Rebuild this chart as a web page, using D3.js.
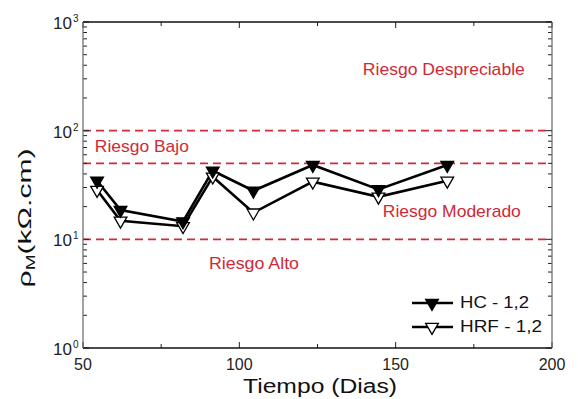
<!DOCTYPE html>
<html>
<head>
<meta charset="utf-8">
<script src="https://cdn.jsdelivr.net/npm/d3@7"></script>
<style>
  html, body { margin: 0; padding: 0; background: #fff; }
  svg { display: block; font-family: Arial, "Liberation Sans", sans-serif; }
</style>
</head>
<body>
<svg id="chart" width="578" height="399"></svg>
<script>
// ---- data ----
const days = [54.5, 62, 82, 91.5, 104.5, 123.5, 144.5, 166.5];
const hcValues = [34.6, 18.6, 14.6, 42.8, 28, 48.3, 28.8, 48.3];
const hrfValues = [28.4, 14.8, 13.2, 37.7, 17.6, 33.9, 24.6, 34.6];
const seriesNames = ["HC - 1,2", "HRF - 1,2"];
const xMajorTicks = [50, 100, 150, 200];
const xMinorTicks = [75, 125, 175];
const yDecadeExponents = [0, 1, 2, 3];
const riskLimits = [10, 50, 100];
const riskLabels = ["Riesgo Despreciable", "Riesgo Bajo", "Riesgo Moderado", "Riesgo Alto"];
const riskLabelDays = [139.5, 53.8, 145.9, 90.3];
const riskLabelValues = [325, 63.6, 16.0, 5.33];
const xTitle = "Tiempo (Dias)";

// ---- layout ----
const L = 83, R = 552, T = 22, B = 348;
const svg = d3.select("#chart");
const x = d3.scaleLinear().domain([50, 200]).range([L, R]);
const y = d3.scaleLog().domain([1, 1000]).range([B, T]);
const red = "#cf2a36";

// risk limit dashed lines
svg.append("g").selectAll("line").data(riskLimits).join("line")
  .attr("x1", L).attr("x2", R)
  .attr("y1", d => y(d)).attr("y2", d => y(d))
  .attr("stroke", red).attr("stroke-width", 1.6)
  .attr("stroke-dasharray", "8,5");

// risk labels
const riskWidths = [162, 94, 138, 90];
svg.append("g").selectAll("text").data(riskLabels).join("text")
  .attr("x", (d, i) => x(riskLabelDays[i]))
  .attr("y", (d, i) => y(riskLabelValues[i]))
  .attr("font-size", 17)
  .attr("fill", red)
  .attr("textLength", (d, i) => riskWidths[i])
  .attr("lengthAdjust", "spacingAndGlyphs")
  .text(d => d);

// ticks
const yAll = y.ticks();
const isMajorY = v => Math.abs(Math.log10(v) - Math.round(Math.log10(v))) < 1e-9;
const axisG = svg.append("g").attr("stroke", "#222");
axisG.selectAll("line.yl").data(yAll).join("line").attr("class", "yl")
  .attr("x1", L).attr("x2", d => L + (isMajorY(d) ? 6 : 4))
  .attr("y1", d => y(d)).attr("y2", d => y(d)).attr("stroke-width", 1);
axisG.selectAll("line.yr").data(yAll).join("line").attr("class", "yr")
  .attr("x1", R).attr("x2", d => R - (isMajorY(d) ? 6 : 4))
  .attr("y1", d => y(d)).attr("y2", d => y(d)).attr("stroke-width", 1);
const xAll = xMajorTicks.map(v => ({v, major: true})).concat(xMinorTicks.map(v => ({v, major: false})));
axisG.selectAll("line.xb").data(xAll).join("line").attr("class", "xb")
  .attr("x1", d => x(d.v)).attr("x2", d => x(d.v))
  .attr("y1", B).attr("y2", d => B - (d.major ? 6 : 4)).attr("stroke-width", 1);
axisG.selectAll("line.xt").data(xAll).join("line").attr("class", "xt")
  .attr("x1", d => x(d.v)).attr("x2", d => x(d.v))
  .attr("y1", T).attr("y2", d => T + (d.major ? 6 : 4)).attr("stroke-width", 1);

// frame
svg.append("line").attr("x1", L).attr("x2", R).attr("y1", T).attr("y2", T).attr("stroke", "#111").attr("stroke-width", 1.4);
svg.append("line").attr("x1", L).attr("x2", R).attr("y1", B).attr("y2", B).attr("stroke", "#111").attr("stroke-width", 1.4);
svg.append("line").attr("x1", L).attr("x2", L).attr("y1", T).attr("y2", B).attr("stroke", "#666").attr("stroke-width", 1.2);
svg.append("line").attr("x1", R).attr("x2", R).attr("y1", T).attr("y2", B).attr("stroke", "#666").attr("stroke-width", 1.2);

// x tick labels
svg.append("g").selectAll("text").data(xMajorTicks).join("text")
  .attr("x", d => x(d)).attr("y", B + 22)
  .attr("text-anchor", "middle").attr("font-size", 16).attr("fill", "#222")
  .text(d => d);

// y tick labels 10^n
svg.append("g").selectAll("text").data(yDecadeExponents).join("text")
  .attr("x", 72).attr("y", d => y(Math.pow(10, d)) + 7)
  .attr("text-anchor", "end").attr("font-size", 17).attr("fill", "#222")
  .text("10");
svg.append("g").selectAll("text").data(yDecadeExponents).join("text")
  .attr("x", 73).attr("y", d => y(Math.pow(10, d)) + 0)
  .attr("font-size", 10).attr("fill", "#222").text(d => d);

// axis titles
svg.append("text").attr("x", (243 + 397) / 2).attr("y", 393)
  .attr("text-anchor", "middle").attr("font-size", 20).attr("fill", "#111")
  .attr("textLength", 154).attr("lengthAdjust", "spacingAndGlyphs")
  .text(xTitle);

const yt = svg.append("text")
  .attr("transform", "translate(31," + 218 + ") rotate(-90)")
  .attr("text-anchor", "middle").attr("font-size", 19).attr("fill", "#111")
  .attr("textLength", 139).attr("lengthAdjust", "spacingAndGlyphs");
yt.append("tspan").text("ρ");
yt.append("tspan").attr("font-size", 12).attr("dy", 4).text("M");
yt.append("tspan").attr("dy", -4).text("(kΩ.cm)");

// series
const line = d3.line().x((d, i) => x(days[i])).y(d => y(d));
const tri = d3.symbol().type(d3.symbolTriangle).size(70);
const series = [
  {vals: hrfValues, fill: "#fff"},
  {vals: hcValues, fill: "#000"}
];
series.forEach(s => {
  svg.append("path").datum(s.vals).attr("d", line)
    .attr("fill", "none").attr("stroke", "#000").attr("stroke-width", 2.6)
    .attr("stroke-linejoin", "miter");
});
series.forEach(s => {
  svg.append("g").selectAll("path").data(s.vals).join("path")
    .attr("d", tri)
    .attr("transform", (d, i) => `translate(${x(days[i])},${y(d)}) rotate(180)`)
    .attr("fill", s.fill).attr("stroke", "#000").attr("stroke-width", 1.3);
});

// legend
const legY = [303, 327];
const legFill = ["#000", "#fff"];
const legW = [69, 82];
const lg = svg.append("g");
seriesNames.forEach((name, i) => {
  lg.append("line").attr("x1", 412).attr("x2", 453).attr("y1", legY[i]).attr("y2", legY[i])
    .attr("stroke", "#000").attr("stroke-width", 2.4);
  lg.append("path").attr("d", tri)
    .attr("transform", `translate(432,${legY[i]}) rotate(180)`)
    .attr("fill", legFill[i]).attr("stroke", "#000").attr("stroke-width", 1.3);
  lg.append("text").attr("x", 460).attr("y", legY[i] + 5)
    .attr("font-size", 16).attr("fill", "#111")
    .attr("textLength", legW[i]).attr("lengthAdjust", "spacingAndGlyphs")
    .text(name);
});
</script>
</body>
</html>
